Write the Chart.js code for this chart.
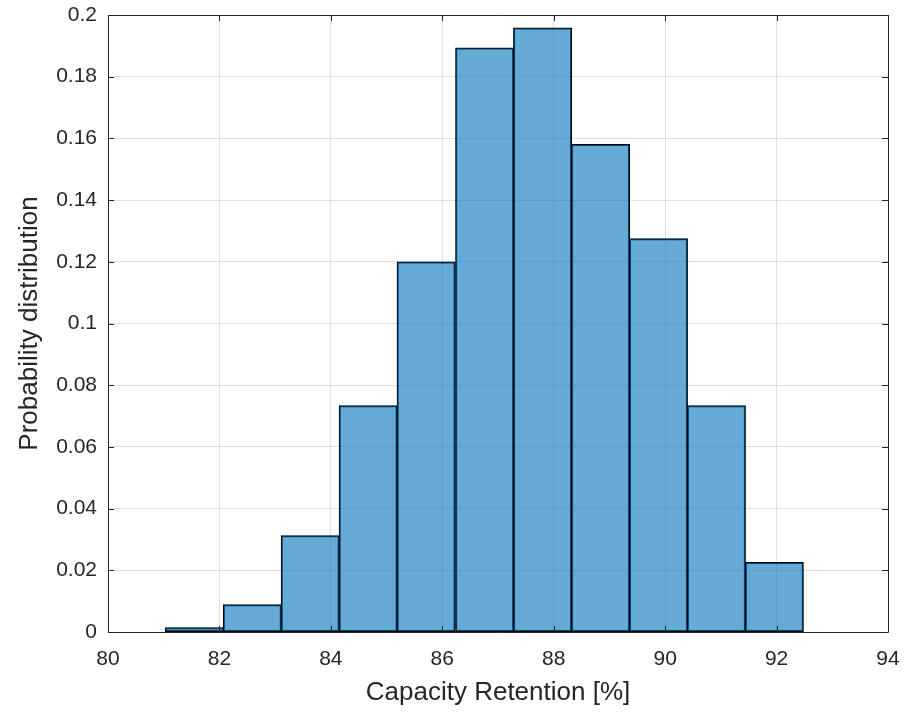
<!DOCTYPE html>
<html>
<head>
<meta charset="utf-8">
<script src="https://cdn.jsdelivr.net/npm/chart.js@4.4.0/dist/chart.umd.min.js"></script>
<style>
  html, body { margin: 0; padding: 0; background: #ffffff; }
  #wrap { width: 904px; height: 713px; position: relative; }
</style>
</head>
<body>
<div id="wrap"><canvas id="c" width="904" height="713"></canvas></div>
<script>
// ---- data ----
const binCenters = [81.55, 82.59, 83.63, 84.67, 85.71, 86.76, 87.80, 88.84, 89.88, 90.92, 91.96];
const probabilities = [0.0014, 0.0088, 0.0312, 0.0733, 0.1199, 0.1893, 0.1958, 0.1580, 0.1275, 0.0733, 0.0225];
const xTickValues = [80, 82, 84, 86, 88, 90, 92, 94];
const yTickValues = [0, 0.02, 0.04, 0.06, 0.08, 0.1, 0.12, 0.14, 0.16, 0.18, 0.2];
const xLabel = 'Capacity Retention [%]';
const yLabel = 'Probability distribution';

const textColor = 'rgb(38,38,38)';
const fontFamily = '"Liberation Sans", Arial, Helvetica, sans-serif';

const frameAndTicks = {
  id: 'frameAndTicks',
  afterDraw(chart) {
    const {ctx, chartArea: a, scales: {x, y}} = chart;
    ctx.save();
    ctx.strokeStyle = textColor;
    ctx.lineWidth = 1;
    ctx.beginPath();
    ctx.rect(Math.round(a.left) + 0.5, Math.round(a.top) + 0.5,
             Math.round(a.right - a.left), Math.round(a.bottom - a.top));
    ctx.stroke();
    const tl = 6;
    ctx.beginPath();
    xTickValues.forEach(v => {
      const px = Math.round(x.getPixelForValue(v)) + 0.5;
      ctx.moveTo(px, a.bottom); ctx.lineTo(px, a.bottom - tl);
      ctx.moveTo(px, a.top); ctx.lineTo(px, a.top + tl);
    });
    yTickValues.forEach(v => {
      const py = Math.round(y.getPixelForValue(v)) + 0.5;
      ctx.moveTo(a.left, py); ctx.lineTo(a.left + tl, py);
      ctx.moveTo(a.right, py); ctx.lineTo(a.right - tl, py);
    });
    ctx.stroke();
    ctx.restore();
  }
};

new Chart(document.getElementById('c'), {
  type: 'bar',
  data: {
    datasets: [{
      data: binCenters.map((c, i) => ({x: c, y: probabilities[i]})),
      backgroundColor: 'rgba(0,114,189,0.6)',
      borderColor: 'rgb(0,0,0)',
      borderWidth: 1,
      inflateAmount: 0.5,
      borderSkipped: false,
      barPercentage: 1.0,
      categoryPercentage: 1.0,
      grouped: false
    }]
  },
  options: {
    responsive: false,
    animation: false,
    devicePixelRatio: 1,
    layout: { padding: { left: 0, right: 16, top: 15, bottom: 0 } },
    plugins: { legend: { display: false }, tooltip: { enabled: false } },
    scales: {
      x: {
        type: 'linear',
        min: 80, max: 94,
        offset: false,
        afterBuildTicks(scale) { scale.ticks = xTickValues.map(v => ({value: v})); },
        afterFit(scale) { scale.height = 81; scale.paddingLeft = 0; scale.paddingRight = 0; },
        grid: { color: 'rgba(38,38,38,0.15)', drawTicks: false, lineWidth: 1, offset: false },
        border: { display: false },
        ticks: {
          color: textColor, padding: 15,
          font: { family: fontFamily, size: 21 },
          maxRotation: 0,
          callback: v => String(v)
        },
        title: {
          display: true, text: xLabel, color: textColor,
          font: { family: fontFamily, size: 26 },
          padding: { top: 0, bottom: 5 }
        }
      },
      y: {
        min: 0, max: 0.2,
        afterBuildTicks(scale) { scale.ticks = yTickValues.map(v => ({value: v})); },
        afterFit(scale) { scale.width = 108; scale.paddingTop = 0; scale.paddingBottom = 0; },
        grid: { color: 'rgba(38,38,38,0.15)', drawTicks: false, lineWidth: 1 },
        border: { display: false },
        ticks: {
          color: textColor, padding: 11,
          font: { family: fontFamily, size: 21 },
          callback: v => String(+v.toFixed(2))
        },
        title: {
          display: true, text: yLabel, color: textColor,
          font: { family: fontFamily, size: 26 },
          padding: { top: 14, bottom: 0 }
        }
      }
    }
  },
  plugins: [frameAndTicks]
});
</script>
</body>
</html>
